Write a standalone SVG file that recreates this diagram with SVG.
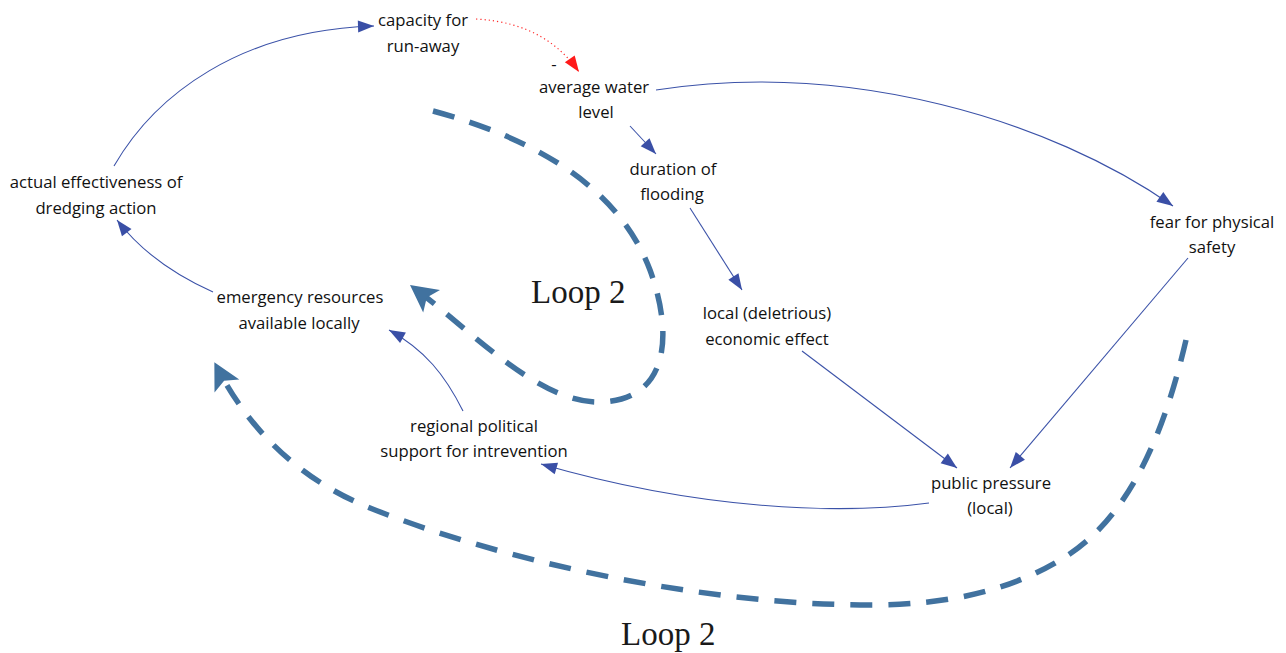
<svg xmlns="http://www.w3.org/2000/svg" width="1286" height="653" viewBox="0 0 1286 653">
<style>
.lbl{font-family:"Open Sans","Liberation Sans",sans-serif;font-size:16.7px;fill:#111;text-anchor:middle}
.loop{font-family:"Liberation Serif","DejaVu Serif",serif;font-size:33px;fill:#1a1a1a}
.c{fill:none;stroke:#3b52a8;stroke-width:1.1}
.neg{fill:none;stroke:#ff2a2a;stroke-width:1.2;stroke-dasharray:1.2 3}
.dash{fill:none;stroke:#41729f;stroke-width:5.5;stroke-dasharray:22 16}
</style>
<defs>
<marker id="ah" markerUnits="userSpaceOnUse" markerWidth="20" markerHeight="20" refX="0" refY="0" orient="auto" overflow="visible">
<path d="M0,0 L-16,-6 L-16,6 Z" fill="#3a4fa6"/>
</marker>
<marker id="ahr" markerUnits="userSpaceOnUse" markerWidth="20" markerHeight="20" refX="0" refY="0" orient="auto" overflow="visible">
<path d="M0,0 L-16,-6 L-16,6 Z" fill="#ff1a1a"/>
</marker>
<marker id="big" markerUnits="userSpaceOnUse" markerWidth="40" markerHeight="40" refX="0" refY="0" orient="auto" overflow="visible">
<path d="M10,0 L-17,-14 L-11,0 L-17,14 Z" fill="#41729f"/>
</marker>
</defs>
<g id="connectors">
<path class="c" d="M114,166 C155,95 240,30 374,26" marker-end="url(#ah)"/>
<path class="neg" d="M476,19 C530,22 560,45 579,72" marker-end="url(#ahr)"/>
<path class="c" d="M656,90 C850,60 1050,120 1173,206" marker-end="url(#ah)"/>
<path class="c" d="M630,126 L656,154" marker-end="url(#ah)"/>
<path class="c" d="M690,208 L742,290" marker-end="url(#ah)"/>
<path class="c" d="M802,351 L957,468" marker-end="url(#ah)"/>
<path class="c" d="M1188,258 L1010,468" marker-end="url(#ah)"/>
<path class="c" d="M929,503 C840,515 700,510 541,464" marker-end="url(#ah)"/>
<path class="c" d="M463,411 C445,375 425,350 389,330" marker-end="url(#ah)"/>
<path class="c" d="M213,292 C175,275 140,250 117,220" marker-end="url(#ah)"/>
<path class="dash" d="M433,111 C540,140 620,190 650,270 C672,330 672,400 600,402 C540,404 470,330 418,291" marker-end="url(#big)"/>
<path class="dash" d="M1186,340 C1165,430 1130,520 1060,560 C1010,590 950,605 870,605 C700,605 500,560 370,508 C300,480 250,430 219,371" marker-end="url(#big)"/>
</g>
<g id="capacity"><text class="lbl" x="423" y="26">capacity for</text><text class="lbl" x="423" y="52">run-away</text></g>
<g id="minus"><text class="lbl" x="554" y="70">-</text></g>
<g id="water"><text class="lbl" x="594" y="93">average water</text><text class="lbl" x="596" y="118">level</text></g>
<g id="duration"><text class="lbl" x="673" y="175">duration of</text><text class="lbl" x="672" y="200">flooding</text></g>
<g id="fear"><text class="lbl" x="1212" y="228">fear for physical</text><text class="lbl" x="1212" y="253">safety</text></g>
<g id="actual"><text class="lbl" x="96" y="188">actual effectiveness of</text><text class="lbl" x="96" y="214">dredging action</text></g>
<g id="emergency"><text class="lbl" x="300" y="303">emergency resources</text><text class="lbl" x="299" y="329">available locally</text></g>
<g id="local"><text class="lbl" x="767" y="319">local (deletrious)</text><text class="lbl" x="767" y="345">economic effect</text></g>
<g id="regional"><text class="lbl" x="474" y="432">regional political</text><text class="lbl" x="474" y="457">support for intrevention</text></g>
<g id="public"><text class="lbl" x="991" y="489">public pressure</text><text class="lbl" x="990" y="514">(local)</text></g>
<g id="loops"><text class="loop" x="531" y="303">Loop 2</text><text class="loop" x="621" y="645">Loop 2</text></g>
</svg>
